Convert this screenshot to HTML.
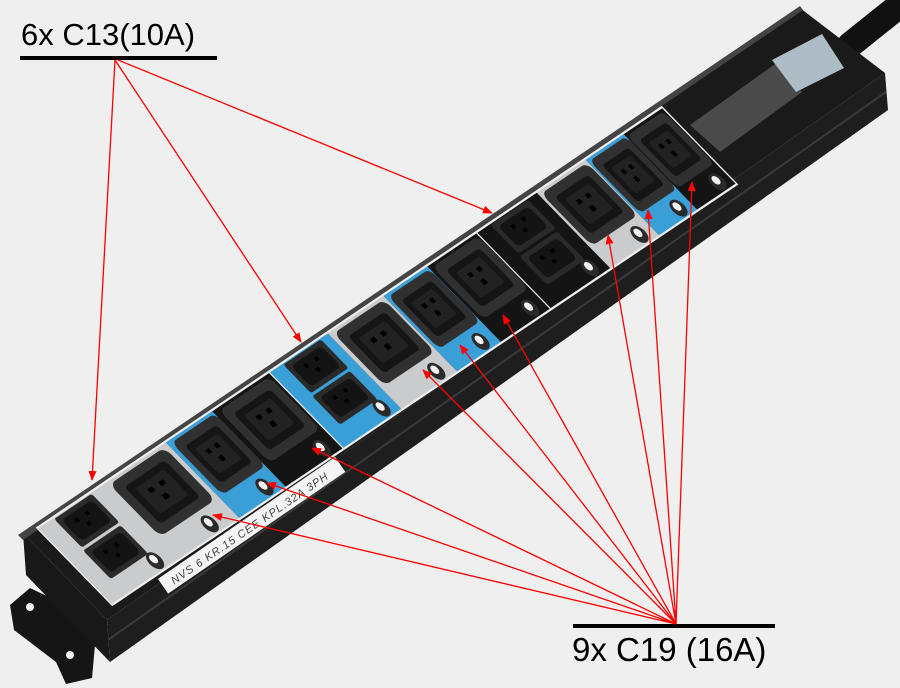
<!DOCTYPE html>
<html><head><meta charset="utf-8"><style>
html,body{margin:0;padding:0;background:#efefef;}
svg{display:block}
</style></head><body>
<svg width="900" height="688" viewBox="0 0 900 688" xmlns="http://www.w3.org/2000/svg" font-family="Liberation Sans, sans-serif">
<defs>
<marker id="ah" markerWidth="10" markerHeight="8" refX="9" refY="4" orient="auto" markerUnits="userSpaceOnUse">
<path d="M0,0 L10,4 L0,8 Z" fill="#ff0000"/></marker>
<g id="c19">
<rect x="-4" y="-2" width="88" height="68" rx="9" fill="#303030"/>
<rect x="8" y="8" width="64" height="48" rx="5" fill="#151515"/>
<rect x="17" y="15" width="46" height="33" rx="3" fill="#222"/>
<rect x="28" y="22" width="7" height="5" fill="#000"/><rect x="45" y="22" width="7" height="5" fill="#000"/><rect x="36" y="34" width="7" height="6" fill="#000"/>
</g>
<g id="c13">
<rect x="0" y="0" width="72" height="37" rx="3" fill="#2a2a2a"/>
<rect x="7" y="5" width="58" height="27" rx="6" fill="#141414"/>
<rect x="22" y="11" width="6" height="4" fill="#000"/><rect x="42" y="11" width="6" height="4" fill="#000"/><rect x="32" y="20" width="6" height="4" fill="#000"/>
</g>
</defs>
<rect width="900" height="688" fill="#efefef"/>
<!-- cable -->
<path d="M850,45 L900,5" stroke="#111" stroke-width="26" stroke-linecap="round"/>
<!-- bracket -->
<polygon points="10,605 30,588 55,600 95,645 92,678 66,684 56,662 14,630" fill="#151515"/>
<circle cx="30" cy="607" r="4" fill="#efefef"/><circle cx="70" cy="655" r="4" fill="#efefef"/>
<!-- side face -->
<polygon points="107,620 885,73 888,110 110,662" fill="#1e1e1e"/>
<line x1="108" y1="640" x2="886" y2="92" stroke="#3a3a3a" stroke-width="2"/>
<!-- left end face -->
<polygon points="23,533 107,620 110,662 26,575" fill="#181818"/>
<!-- top face -->
<polygon points="23,533 800,8 885,73 107,620" fill="#1a1a1a"/>
<polygon points="18,535 800,6 803,10 23,540" fill="#444"/>
<!-- label area right -->
<polygon points="690,125 775,64 802,92 720,152" fill="#4a4a4a"/>
<polygon points="772,60 822,34 844,68 796,92" fill="#aebcc6"/>
<!-- panel -->
<g transform="matrix(0.5208,-0.3508,0.75,0.77,37,528)">
<rect x="0" y="0" width="1200" height="100" fill="#141414" stroke="#eee" stroke-width="2"/>
<rect x="0" y="0" width="246" height="100" fill="#c9cbcc"/>
<rect x="246" y="0" width="89" height="100" fill="#3a9fd6"/>
<rect x="445" y="0" width="112" height="100" fill="#3a9fd6"/>
<rect x="557" y="0" width="107" height="100" fill="#c9cbcc"/>
<rect x="664" y="0" width="84" height="100" fill="#3a9fd6"/>
<rect x="958" y="0" width="94" height="100" fill="#c9cbcc"/>
<rect x="1052" y="0" width="73" height="100" fill="#3a9fd6"/>
<line x1="445" y1="0" x2="445" y2="100" stroke="#eee" stroke-width="2"/>
<line x1="843" y1="0" x2="843" y2="100" stroke="#eee" stroke-width="2"/>
<rect x="0" y="0" width="1200" height="100" fill="none" stroke="#eee" stroke-width="2"/>
<use href="#c13" x="30" y="2"/><use href="#c13" x="28" y="42"/>
<use href="#c13" x="470" y="2"/><use href="#c13" x="468" y="42"/>
<use href="#c13" x="868" y="2"/><use href="#c13" x="866" y="42"/>
<g transform="translate(138,6) scale(1.2,1)"><use href="#c19"/></g>
<g transform="translate(256,6) scale(0.95,1)"><use href="#c19"/></g>
<g transform="translate(348,6) scale(1.1,1)"><use href="#c19"/></g>
<g transform="translate(568,6) scale(1.1,1)"><use href="#c19"/></g>
<g transform="translate(672,6) scale(0.9,1)"><use href="#c19"/></g>
<g transform="translate(757,6) scale(1.0,1)"><use href="#c19"/></g>
<g transform="translate(966,6) scale(1.0,1)"><use href="#c19"/></g>
<g transform="translate(1058,6) scale(0.8,1)"><use href="#c19"/></g>
<g transform="translate(1130,6) scale(0.8,1)"><use href="#c19"/></g>
<g fill="#2a2a2a">
<ellipse cx="100" cy="88" rx="10" ry="10"/><ellipse cx="205" cy="88" rx="10" ry="10"/><ellipse cx="310" cy="88" rx="10" ry="10"/><ellipse cx="420" cy="88" rx="10" ry="10"/>
<ellipse cx="535" cy="88" rx="10" ry="10"/><ellipse cx="640" cy="88" rx="10" ry="10"/><ellipse cx="725" cy="88" rx="10" ry="10"/><ellipse cx="820" cy="88" rx="10" ry="10"/>
<ellipse cx="935" cy="88" rx="10" ry="10"/><ellipse cx="1030" cy="88" rx="10" ry="10"/><ellipse cx="1105" cy="88" rx="10" ry="10"/><ellipse cx="1180" cy="88" rx="10" ry="10"/>
</g>
<g fill="#f2f2f2">
<ellipse cx="100" cy="86" rx="5" ry="5"/><ellipse cx="205" cy="86" rx="5" ry="5"/><ellipse cx="310" cy="86" rx="5" ry="5"/><ellipse cx="420" cy="86" rx="5" ry="5"/>
<ellipse cx="535" cy="86" rx="5" ry="5"/><ellipse cx="640" cy="86" rx="5" ry="5"/><ellipse cx="725" cy="86" rx="5" ry="5"/><ellipse cx="820" cy="86" rx="5" ry="5"/>
<ellipse cx="935" cy="86" rx="5" ry="5"/><ellipse cx="1030" cy="86" rx="5" ry="5"/><ellipse cx="1105" cy="86" rx="5" ry="5"/><ellipse cx="1180" cy="86" rx="5" ry="5"/>
</g>
</g>
<!-- label strip -->
<g transform="translate(167,592) rotate(-34.5)">
<rect x="0" y="-16" width="215" height="18" fill="#f4f4f4"/>
<text x="10" y="-2" font-size="11" fill="#444" font-style="italic" letter-spacing="1">NVS  6  KR.15  CEE  KPL.32A  3PH</text>
</g>
<!-- labels -->
<text x="21" y="45" font-size="31" fill="#000">6x C13(10A)</text>
<rect x="20" y="56" width="197" height="4" fill="#000"/>
<text x="572" y="661" font-size="33" fill="#000">9x C19 (16A)</text>
<rect x="573" y="624" width="202" height="4" fill="#000"/>
<g stroke="#ff0000" stroke-width="1.3" fill="none" marker-end="url(#ah)">
<line x1="115" y1="60" x2="92" y2="480"/>
<line x1="115" y1="60" x2="301" y2="342"/>
<line x1="118" y1="60" x2="492" y2="213"/>
<line x1="676" y1="624" x2="213" y2="515"/>
<line x1="676" y1="624" x2="267" y2="483"/>
<line x1="676" y1="624" x2="312" y2="448"/>
<line x1="676" y1="624" x2="423" y2="370"/>
<line x1="676" y1="624" x2="460" y2="345"/>
<line x1="676" y1="624" x2="503" y2="315"/>
<line x1="676" y1="624" x2="608" y2="235"/>
<line x1="676" y1="624" x2="648" y2="210"/>
<line x1="676" y1="624" x2="692" y2="182"/>
</g>
</svg>
</body></html>
